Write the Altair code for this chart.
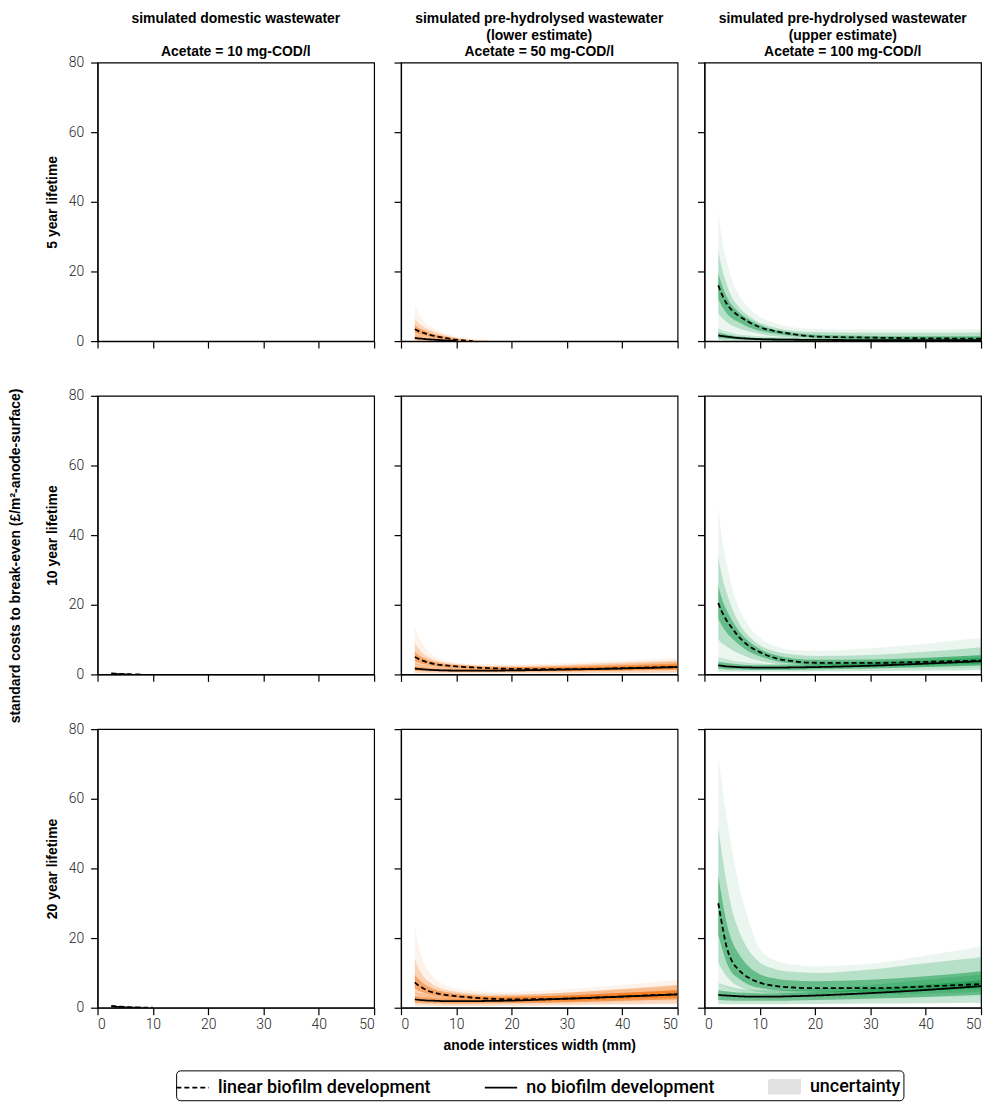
import altair as alt
import pandas as pd

# ---------------- data ----------------
X = [2.5, 3, 4, 5, 6, 8, 10, 13, 16, 20, 30, 40, 50]
XTICKS = [0, 10, 20, 30, 40, 50]
YTICKS = [0, 20, 40, 60, 80]

LIFETIMES = ["5 year lifetime", "10 year lifetime", "20 year lifetime"]
COLUMN_TITLES = [
    ["simulated domestic wastewater", "\u200b", "Acetate = 10 mg-COD/l"],
    ["simulated pre-hydrolysed wastewater", "(lower estimate)", "Acetate = 50 mg-COD/l"],
    ["simulated pre-hydrolysed wastewater", "(upper estimate)", "Acetate = 100 mg-COD/l"],
]
TITLE_OFFSETS = [-3, 3, 3]
XTITLE = "anode interstices width (mm)"
YTITLE = "standard costs to break-even (£/m²-anode-surface)"
SERIES = ["linear biofilm development", "no biofilm development", "uncertainty"]

# --- 10 mg-COD/l (domestic) ---
LIN5_10 = []
NONE5_10 = []
LIN10_10 = [0.3, 0.25, 0.15, 0.08, 0.03, 0.0]
NONE10_10 = [0.2, 0.15, 0.08, 0.03, 0.0]
LIN20_10 = [0.5, 0.42, 0.3, 0.2, 0.12, 0.03, 0.0]
NONE20_10 = [0.35, 0.3, 0.2, 0.12, 0.06, 0.0]

# --- 50 mg-COD/l, 5 years ---
LIN5_50 = [3.4, 3.0, 2.4, 1.9, 1.5, 0.9, 0.4, 0.0]
NONE5_50 = [0.9, 0.8, 0.65, 0.5, 0.4, 0.2, 0.05]
LIN5_50_LO0 = [0.8, 0.7, 0.5, 0.4, 0.3, 0.1, 0.0, 0.0, 0.0]
LIN5_50_HI0 = [10.5, 8.5, 6.0, 4.5, 3.6, 2.3, 1.5, 0.7, 0.2]
LIN5_50_LO1 = [1.6, 1.4, 1.1, 0.9, 0.6, 0.3, 0.05, 0.0, 0.0]
LIN5_50_HI1 = [6.5, 5.5, 4.2, 3.3, 2.7, 1.7, 1.0, 0.4, 0.1]
LIN5_50_LO2 = [2.4, 2.1, 1.7, 1.3, 1.0, 0.5, 0.15, 0.0]
LIN5_50_HI2 = [4.6, 4.0, 3.2, 2.5, 2.0, 1.3, 0.7, 0.2]
NONE5_50_LO1 = [0.0, 0.0, 0.0, 0.0, 0.0, 0.0, 0.0, 0.0]
NONE5_50_HI1 = [2.0, 1.8, 1.5, 1.2, 1.0, 0.6, 0.3, 0.05]
NONE5_50_LO2 = [0.4, 0.35, 0.3, 0.2, 0.15, 0.05, 0.0, 0.0]
NONE5_50_HI2 = [1.4, 1.3, 1.0, 0.8, 0.65, 0.35, 0.15, 0.0]

# --- 50 mg-COD/l, 10 years ---
LIN10_50 = [5.0, 4.6, 3.9, 3.4, 3.0, 2.6, 2.3, 2.0, 1.8, 1.6, 1.5, 1.8, 2.2]
NONE10_50 = [1.7, 1.6, 1.45, 1.35, 1.25, 1.15, 1.1, 1.1, 1.1, 1.15, 1.4, 1.7, 2.1]
LIN10_50_LO0 = [1.8, 1.7, 1.5, 1.4, 1.3, 1.1, 1.0, 0.9, 0.8, 0.7, 0.6, 0.7, 0.8]
LIN10_50_HI0 = [14, 11.5, 8.5, 6.5, 5.3, 4.0, 3.4, 3.0, 2.9, 2.9, 3.3, 4.0, 4.8]
LIN10_50_LO1 = [2.8, 2.6, 2.3, 2.1, 1.9, 1.7, 1.5, 1.3, 1.2, 1.0, 0.9, 1.1, 1.3]
LIN10_50_HI1 = [9, 7.8, 6.0, 4.9, 4.2, 3.4, 3.0, 2.7, 2.5, 2.5, 2.8, 3.4, 4.0]
LIN10_50_LO2 = [3.8, 3.5, 3.0, 2.7, 2.4, 2.1, 1.9, 1.7, 1.5, 1.3, 1.2, 1.4, 1.7]
LIN10_50_HI2 = [6.5, 5.8, 4.8, 4.1, 3.6, 3.0, 2.7, 2.4, 2.2, 2.1, 2.2, 2.6, 3.1]
NONE10_50_LO1 = [0.4, 0.4, 0.35, 0.35, 0.3, 0.3, 0.3, 0.3, 0.3, 0.3, 0.35, 0.4, 0.5]
NONE10_50_HI1 = [3.2, 3.0, 2.7, 2.5, 2.3, 2.1, 2.0, 2.0, 2.0, 2.1, 2.5, 3.0, 3.6]
NONE10_50_LO2 = [1.0, 0.95, 0.9, 0.85, 0.8, 0.75, 0.7, 0.7, 0.7, 0.75, 0.9, 1.1, 1.4]
NONE10_50_HI2 = [2.4, 2.3, 2.1, 1.9, 1.8, 1.6, 1.55, 1.5, 1.5, 1.6, 1.9, 2.3, 2.8]

# --- 50 mg-COD/l, 20 years ---
LIN20_50 = [7.3, 6.6, 5.6, 4.8, 4.3, 3.7, 3.3, 2.9, 2.6, 2.4, 2.6, 3.2, 3.9]
NONE20_50 = [2.4, 2.3, 2.15, 2.05, 2.0, 1.9, 1.9, 1.9, 1.95, 2.05, 2.6, 3.2, 3.8]
LIN20_50_LO0 = [2.6, 2.5, 2.3, 2.1, 2.0, 1.8, 1.6, 1.5, 1.3, 1.2, 1.2, 1.4, 1.7]
LIN20_50_HI0 = [24, 19, 13.5, 10.5, 8.5, 6.5, 5.5, 4.9, 4.6, 4.6, 5.3, 6.5, 8.0]
LIN20_50_LO1 = [4.0, 3.7, 3.3, 3.0, 2.8, 2.5, 2.2, 2.0, 1.8, 1.6, 1.6, 2.0, 2.4]
LIN20_50_HI1 = [14, 12, 9.2, 7.5, 6.4, 5.2, 4.6, 4.1, 3.9, 3.9, 4.4, 5.4, 6.6]
LIN20_50_LO2 = [5.5, 5.0, 4.4, 3.9, 3.6, 3.1, 2.8, 2.5, 2.2, 2.0, 2.0, 2.5, 3.0]
LIN20_50_HI2 = [9.5, 8.5, 7.0, 6.0, 5.3, 4.5, 4.0, 3.6, 3.3, 3.2, 3.5, 4.2, 5.0]
NONE20_50_LO1 = [0.6, 0.6, 0.6, 0.55, 0.55, 0.5, 0.5, 0.5, 0.5, 0.55, 0.7, 0.9, 1.1]
NONE20_50_HI1 = [4.4, 4.2, 3.9, 3.7, 3.5, 3.3, 3.2, 3.2, 3.3, 3.5, 4.3, 5.3, 6.3]
NONE20_50_LO2 = [1.4, 1.35, 1.3, 1.25, 1.2, 1.15, 1.15, 1.15, 1.2, 1.25, 1.6, 2.0, 2.4]
NONE20_50_HI2 = [3.4, 3.3, 3.1, 2.9, 2.8, 2.7, 2.6, 2.6, 2.7, 2.9, 3.5, 4.3, 5.1]

# --- 100 mg-COD/l, 5 years ---
LIN5_100 = [16, 14, 10.8, 8.8, 7.5, 5.5, 4.0, 2.8, 2.0, 1.3, 1.0, 0.8, 0.7]
NONE5_100 = [1.6, 1.5, 1.3, 1.1, 0.9, 0.7, 0.55, 0.45, 0.4, 0.35, 0.3, 0.3, 0.3]
LIN5_100_LO0 = [4, 3.6, 3, 2.5, 2.1, 1.6, 1.2, 0.8, 0.5, 0.3, 0.1, 0.0, 0.0]
LIN5_100_HI0 = [37, 31, 23, 17.5, 14, 9.5, 7, 5, 4, 3.5, 3.3, 3.3, 3.4]
LIN5_100_LO1 = [8, 7, 5.5, 4.5, 3.8, 2.8, 2.1, 1.4, 1.0, 0.7, 0.4, 0.3, 0.2]
LIN5_100_HI1 = [26, 22, 16.5, 12.5, 10.2, 7.2, 5.3, 3.8, 3.0, 2.6, 2.4, 2.4, 2.5]
LIN5_100_LO2 = [12, 10.5, 8, 6.5, 5.6, 4.0, 3.0, 2.1, 1.5, 1.0, 0.7, 0.5, 0.4]
LIN5_100_HI2 = [19.5, 16.8, 12.8, 10.2, 8.6, 6.3, 4.6, 3.2, 2.4, 1.8, 1.5, 1.4, 1.4]
NONE5_100_LO1 = [0.3, 0.3, 0.2, 0.2, 0.1, 0.1, 0.0, 0.0, 0.0, 0.0, 0.0, 0.0, 0.0]
NONE5_100_HI1 = [3.8, 3.4, 2.8, 2.4, 2.0, 1.6, 1.3, 1.1, 1.0, 0.9, 1.0, 1.1, 1.2]
NONE5_100_LO2 = [0.9, 0.8, 0.7, 0.6, 0.5, 0.4, 0.3, 0.2, 0.2, 0.1, 0.1, 0.1, 0.1]
NONE5_100_HI2 = [2.5, 2.3, 1.9, 1.6, 1.4, 1.1, 0.9, 0.8, 0.7, 0.6, 0.6, 0.6, 0.6]

# --- 100 mg-COD/l, 10 years ---
LIN10_100 = [20.5, 18.5, 15.5, 13.3, 11.2, 8.2, 6.4, 4.6, 3.8, 3.35, 3.3, 3.6, 4.0]
NONE10_100 = [2.6, 2.5, 2.3, 2.2, 2.1, 2.0, 1.95, 1.95, 2.0, 2.1, 2.5, 3.1, 3.8]
LIN10_100_LO0 = [5, 4.8, 4.4, 4.0, 3.6, 3.0, 2.6, 2.2, 2.0, 1.9, 1.8, 1.8, 2.0]
LIN10_100_HI0 = [48, 41, 32, 25, 20, 14, 10.5, 8, 7, 6.8, 7.5, 8.8, 10.5]
LIN10_100_LO1 = [10, 9.2, 8, 7, 6.2, 4.8, 3.9, 3.0, 2.6, 2.3, 2.2, 2.3, 2.6]
LIN10_100_HI1 = [34, 29.5, 23.5, 19, 15.5, 11, 8.4, 6.5, 5.7, 5.3, 5.6, 6.5, 7.8]
LIN10_100_LO2 = [16, 14.5, 12, 10.3, 8.9, 6.6, 5.2, 3.8, 3.1, 2.7, 2.6, 2.8, 3.1]
LIN10_100_HI2 = [25.5, 22.5, 18.5, 15.5, 13, 9.5, 7.3, 5.5, 4.6, 4.2, 4.3, 4.8, 5.5]
NONE10_100_LO1 = [0.8, 0.8, 0.8, 0.8, 0.8, 0.8, 0.8, 0.8, 0.8, 0.9, 1.0, 1.1, 1.3]
NONE10_100_HI1 = [5, 4.8, 4.4, 4.0, 3.7, 3.3, 3.1, 3.0, 3.0, 3.1, 3.8, 4.6, 5.6]
NONE10_100_LO2 = [1.6, 1.6, 1.5, 1.4, 1.4, 1.3, 1.3, 1.3, 1.3, 1.4, 1.7, 2.1, 2.6]
NONE10_100_HI2 = [3.6, 3.5, 3.3, 3.1, 2.9, 2.7, 2.6, 2.6, 2.6, 2.8, 3.3, 4.0, 4.8]

# --- 100 mg-COD/l, 20 years ---
LIN20_100 = [30, 25.5, 17.5, 13.3, 11.2, 8.6, 7.2, 6.2, 5.8, 5.6, 5.6, 6.1, 6.8]
NONE20_100 = [3.7, 3.6, 3.5, 3.4, 3.3, 3.2, 3.2, 3.2, 3.3, 3.5, 4.2, 5.1, 6.2]
LIN20_100_LO0 = [7, 6.6, 5.8, 5.1, 4.6, 4.0, 3.6, 3.3, 3.1, 3.0, 2.9, 3.0, 3.2]
LIN20_100_HI0 = [72, 66, 55, 45, 37, 25, 17, 13.5, 12.4, 11.9, 12.6, 15, 17.5]
LIN20_100_LO1 = [13, 11.5, 9, 7.3, 6.3, 5.1, 4.5, 4.1, 3.9, 3.8, 3.8, 4.1, 4.5]
LIN20_100_HI1 = [52, 46, 36, 28, 23, 16.5, 13, 11, 10.3, 10, 11, 12.8, 14.5]
LIN20_100_LO2 = [21, 18, 13, 10, 8.6, 6.6, 5.7, 5.0, 4.7, 4.6, 4.6, 5.0, 5.5]
LIN20_100_HI2 = [38, 33, 24.5, 19, 16, 11.8, 9.6, 8.3, 7.8, 7.6, 8.0, 9.0, 10.5]
NONE20_100_LO1 = [1.0, 1.0, 1.0, 1.0, 1.0, 1.0, 1.0, 1.0, 1.1, 1.1, 1.2, 1.3, 1.4]
NONE20_100_HI1 = [7, 6.8, 6.3, 5.9, 5.6, 5.2, 5, 5, 5.1, 5.4, 6.5, 8, 9.5]
NONE20_100_LO2 = [2.2, 2.2, 2.1, 2.1, 2.0, 2.0, 2.0, 2.0, 2.1, 2.2, 2.6, 3.1, 3.7]
NONE20_100_HI2 = [5, 4.9, 4.7, 4.5, 4.4, 4.2, 4.1, 4.1, 4.2, 4.5, 5.4, 6.6, 7.9]

COLORS = ["#888888", "#f26a00", "#00903a"]
OPACITIES = [0.08, 0.22, 0.45]

# legend styling per entry
LEGEND_STROKES = ["black", "black", "#e2e2e2"]
LEGEND_FILLS = ["transparent", "transparent", "#e2e2e2"]
LEGEND_SHAPES = ["M-1.3,0H1.3", "M-1.3,0H1.3", "M-1.25,-0.55H1.25V0.55H-1.25Z"]
LEGEND_DASHES = [[5, 3], [1, 0], [1, 0]]

# ---------------- assembling tables ----------------
PANELS = {
    (0, 0): (LIN5_10, NONE5_10, []),
    (1, 0): (LIN10_10, NONE10_10, []),
    (2, 0): (LIN20_10, NONE20_10, []),
    (0, 1): (LIN5_50, NONE5_50, [
        ("lin", 0, LIN5_50_LO0, LIN5_50_HI0), ("lin", 1, LIN5_50_LO1, LIN5_50_HI1),
        ("lin", 2, LIN5_50_LO2, LIN5_50_HI2), ("none", 1, NONE5_50_LO1, NONE5_50_HI1),
        ("none", 2, NONE5_50_LO2, NONE5_50_HI2)]),
    (1, 1): (LIN10_50, NONE10_50, [
        ("lin", 0, LIN10_50_LO0, LIN10_50_HI0), ("lin", 1, LIN10_50_LO1, LIN10_50_HI1),
        ("lin", 2, LIN10_50_LO2, LIN10_50_HI2), ("none", 1, NONE10_50_LO1, NONE10_50_HI1),
        ("none", 2, NONE10_50_LO2, NONE10_50_HI2)]),
    (2, 1): (LIN20_50, NONE20_50, [
        ("lin", 0, LIN20_50_LO0, LIN20_50_HI0), ("lin", 1, LIN20_50_LO1, LIN20_50_HI1),
        ("lin", 2, LIN20_50_LO2, LIN20_50_HI2), ("none", 1, NONE20_50_LO1, NONE20_50_HI1),
        ("none", 2, NONE20_50_LO2, NONE20_50_HI2)]),
    (0, 2): (LIN5_100, NONE5_100, [
        ("lin", 0, LIN5_100_LO0, LIN5_100_HI0), ("lin", 1, LIN5_100_LO1, LIN5_100_HI1),
        ("lin", 2, LIN5_100_LO2, LIN5_100_HI2), ("none", 1, NONE5_100_LO1, NONE5_100_HI1),
        ("none", 2, NONE5_100_LO2, NONE5_100_HI2)]),
    (1, 2): (LIN10_100, NONE10_100, [
        ("lin", 0, LIN10_100_LO0, LIN10_100_HI0), ("lin", 1, LIN10_100_LO1, LIN10_100_HI1),
        ("lin", 2, LIN10_100_LO2, LIN10_100_HI2), ("none", 1, NONE10_100_LO1, NONE10_100_HI1),
        ("none", 2, NONE10_100_LO2, NONE10_100_HI2)]),
    (2, 2): (LIN20_100, NONE20_100, [
        ("lin", 0, LIN20_100_LO0, LIN20_100_HI0), ("lin", 1, LIN20_100_LO1, LIN20_100_HI1),
        ("lin", 2, LIN20_100_LO2, LIN20_100_HI2), ("none", 1, NONE20_100_LO1, NONE20_100_HI1),
        ("none", 2, NONE20_100_LO2, NONE20_100_HI2)]),
}

LABEL_FONT = "Roboto"
TITLE_FONT = "Liberation Sans"

LEGEND = alt.Legend(
    title=None, orient="none", legendX=79, legendY=1013, direction="horizontal",
    symbolSize=625, symbolStrokeWidth=1.8, symbolOpacity=1,
    labelFont=LABEL_FONT, labelFontSize=18, labelFontWeight=500, labelColor="black",
    labelLimit=400, labelOffset=12, columnPadding=50, padding=3, strokeColor="black",
    cornerRadius=4,
)
DASH_SCALE = alt.Scale(domain=SERIES, range=LEGEND_DASHES)
STROKE_SCALE = alt.Scale(domain=SERIES, range=LEGEND_STROKES)
FILL_SCALE = alt.Scale(domain=SERIES, range=LEGEND_FILLS)
SHAPE_SCALE = alt.Scale(domain=SERIES, range=LEGEND_SHAPES)


def line_df(lin, none):
    rows = [{"x": x, "y": v, "series": SERIES[0]} for x, v in zip(X, lin)]
    rows += [{"x": x, "y": v, "series": SERIES[1]} for x, v in zip(X, none)]
    return pd.DataFrame(rows, columns=["x", "y", "series"])


def band_df(bands):
    rows = []
    for scen, lev, lo, hi in bands:
        for x, a, b in zip(X, lo, hi):
            rows.append({"x": x, "lo": a, "hi": b, "scen": scen, "level": lev})
    return pd.DataFrame(rows, columns=["x", "lo", "hi", "scen", "level"])


def panel(r, c):
    lin, none, bands = PANELS[(r, c)]
    xs = alt.Scale(domain=[0, 50], nice=False)
    ys = alt.Scale(domain=[0, 80], nice=False)
    bottom = r == 2
    xaxis = alt.Axis(values=XTICKS, labels=bottom, format="d",
                     title=XTITLE if (bottom and c == 1) else None)
    yaxis = alt.Axis(values=YTICKS, labels=(c == 0), format="d",
                     title=LIFETIMES[r] if c == 0 else None)
    layers = []
    bdf = band_df(bands)
    for lev in range(3):
        sub = bdf[bdf["level"] == lev]
        if len(sub):
            layers.append(
                alt.Chart(sub).mark_area(color=COLORS[c], opacity=OPACITIES[lev],
                                         interpolate="monotone", clip=True).encode(
                    x=alt.X("x:Q", scale=xs, axis=xaxis),
                    y=alt.Y("lo:Q", scale=ys, axis=yaxis),
                    y2=alt.Y2("hi:Q"),
                    detail="scen:N",
                )
            )
    layers.append(
        alt.Chart(line_df(lin, none)).mark_line(strokeWidth=1.8, interpolate="monotone",
                                                clip=True).encode(
            x=alt.X("x:Q", scale=xs, axis=xaxis),
            y=alt.Y("y:Q", scale=ys, axis=yaxis),
            strokeDash=alt.StrokeDash("series:N", scale=DASH_SCALE, legend=LEGEND),
            color=alt.Color("series:N", scale=STROKE_SCALE, legend=LEGEND),
        )
    )
    if r == 2 and c == 1:
        # empty layer that only contributes the legend swatch shapes
        empty = pd.DataFrame({"x": [], "y": [], "series": []})
        layers.append(
            alt.Chart(empty).mark_point(filled=True, clip=True).encode(
                x=alt.X("x:Q", scale=xs, axis=xaxis),
                y=alt.Y("y:Q", scale=ys, axis=yaxis),
                shape=alt.Shape("series:N", scale=SHAPE_SCALE, legend=LEGEND),
                fill=alt.Fill("series:N", scale=FILL_SCALE, legend=LEGEND),
            )
        )
    ch = alt.layer(*layers).properties(width=278, height=280)
    if r == 0:
        ch = ch.properties(title=alt.TitleParams(
            COLUMN_TITLES[c], anchor="middle", font=TITLE_FONT, fontSize=14,
            fontWeight="bold", color="black", lineHeight=16.5, offset=TITLE_OFFSETS[c]))
    return ch


panels = [panel(r, c) for r in range(3) for c in range(3)]

chart = alt.concat(
    *panels, columns=3, spacing=alt.RowColnumber(row=55, column=27), bounds="flush"
).properties(
    padding={"left": 0, "top": 0, "right": 5, "bottom": 5},
    title=alt.TitleParams(YTITLE, orient="left", anchor="middle", font=TITLE_FONT,
                          fontSize=14, fontWeight="bold", color="black", offset=22),
).configure_view(
    stroke="black", strokeWidth=1.2
).configure_axis(
    domainColor="black", domainWidth=1.2, tickColor="black", tickWidth=1.2, tickSize=7,
    labelFont=LABEL_FONT, labelFontWeight=300, labelFontSize=14, labelColor="#222222",
    titleFont=TITLE_FONT, titleFontSize=14, titleFontWeight="bold", titleColor="black",
    grid=False,
).configure_axisX(labelPadding=3, titlePadding=7).configure_axisY(labelPadding=7, titlePadding=9)

chart.save("out.html", embed_options={"renderer": "svg", "actions": False})
